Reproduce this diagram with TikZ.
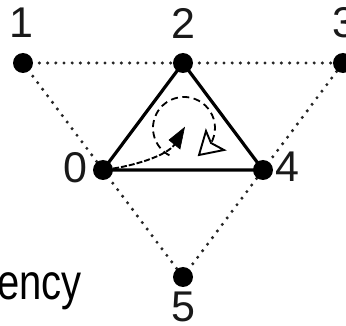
\documentclass[tikz,border=0pt]{standalone}
\usepackage{fontspec}
\setmainfont{Liberation Sans}
\usetikzlibrary{arrows.meta,calc}
\begin{document}
\begin{tikzpicture}[x=1pt,y=-1pt,
  vtx/.style={circle,fill=black,inner sep=0pt,minimum size=20pt},
  lbl/.style={inner sep=0pt,anchor=base,text=black!90,font=\fontsize{43}{50}\selectfont},
  dotline/.style={line width=3.4pt,line cap=round,dash pattern=on 0pt off 8.2pt,black!85},
  edge/.style={line width=3.2pt},
  loopline/.style={line width=1.8pt,dash pattern=on 7pt off 4.5pt},
  openhead/.style={line width=1.9pt,line join=miter,fill=white,draw=black},
  filledhead/.style={fill=black,draw=black,line width=0.6pt,line join=miter},
  curvedash/.style={line width=1.9pt,dash pattern=on 6pt off 2pt}]
\useasboundingbox (0,0) rectangle (346,326);
\clip (0,0) rectangle (346,326);
% dotted lattice edges
\coordinate (p1) at (23,63);
\coordinate (p2) at (183,63);
\coordinate (p3) at (343,63);
\coordinate (p0) at (103,170);
\coordinate (p4) at (263,170);
\coordinate (p5) at (183,277);
\draw[dotline] (p1) -- (p2);
\draw[dotline] (p2) -- (p3);
\draw[dotline] (p1) -- (p0);
\draw[dotline] (p0) -- (p5);
\draw[dotline] (p5) -- (p4);
\draw[dotline] (p4) -- (p3);
% solid triangle
\draw[edge,line join=round] (p0) -- (p2) -- (p4) -- cycle;
% vertices
\node[vtx] (n1) at (p1) {};
\node[vtx] (n2) at (p2) {};
\node[vtx] (n3) at (p3) {};
\node[vtx] (n0) at (p0) {};
\node[vtx] (n4) at (p4) {};
\node[vtx] (n5) at (p5) {};
% labels
\node[lbl] (l1) at (21,38) {1};
\node[lbl] (l2) at (183,39) {2};
\node[lbl] (l3) at (344,38) {3};
\node[lbl] (l0) at (75,182.5) {0};
\node[lbl] (l4) at (287.5,182) {4};
\node[lbl] (l5) at (183,322) {5};
% dashed loop with open arrowhead
\coordinate (c) at (184,128);
\draw[loopline] ($(c)+(118:31)$) arc[start angle=118,end angle=392,radius=31];
\draw[openhead] (199,155) -- (206,131) -- (211,143) -- (224,150) -- cycle;
% curved arrow from vertex 0
\coordinate (hb) at (175,144);
\draw[curvedash] (n0) .. controls (130,166) and (166,157) .. (hb);
\draw[filledhead] (184.5,127.5) -- (169,140) -- (180,149) -- cycle;
% text
\node[inner sep=0pt,anchor=base west,xscale=0.8,font=\fontsize{50}{58}\selectfont] (t) at (-3,300) {ency};
\end{tikzpicture}
\end{document}
